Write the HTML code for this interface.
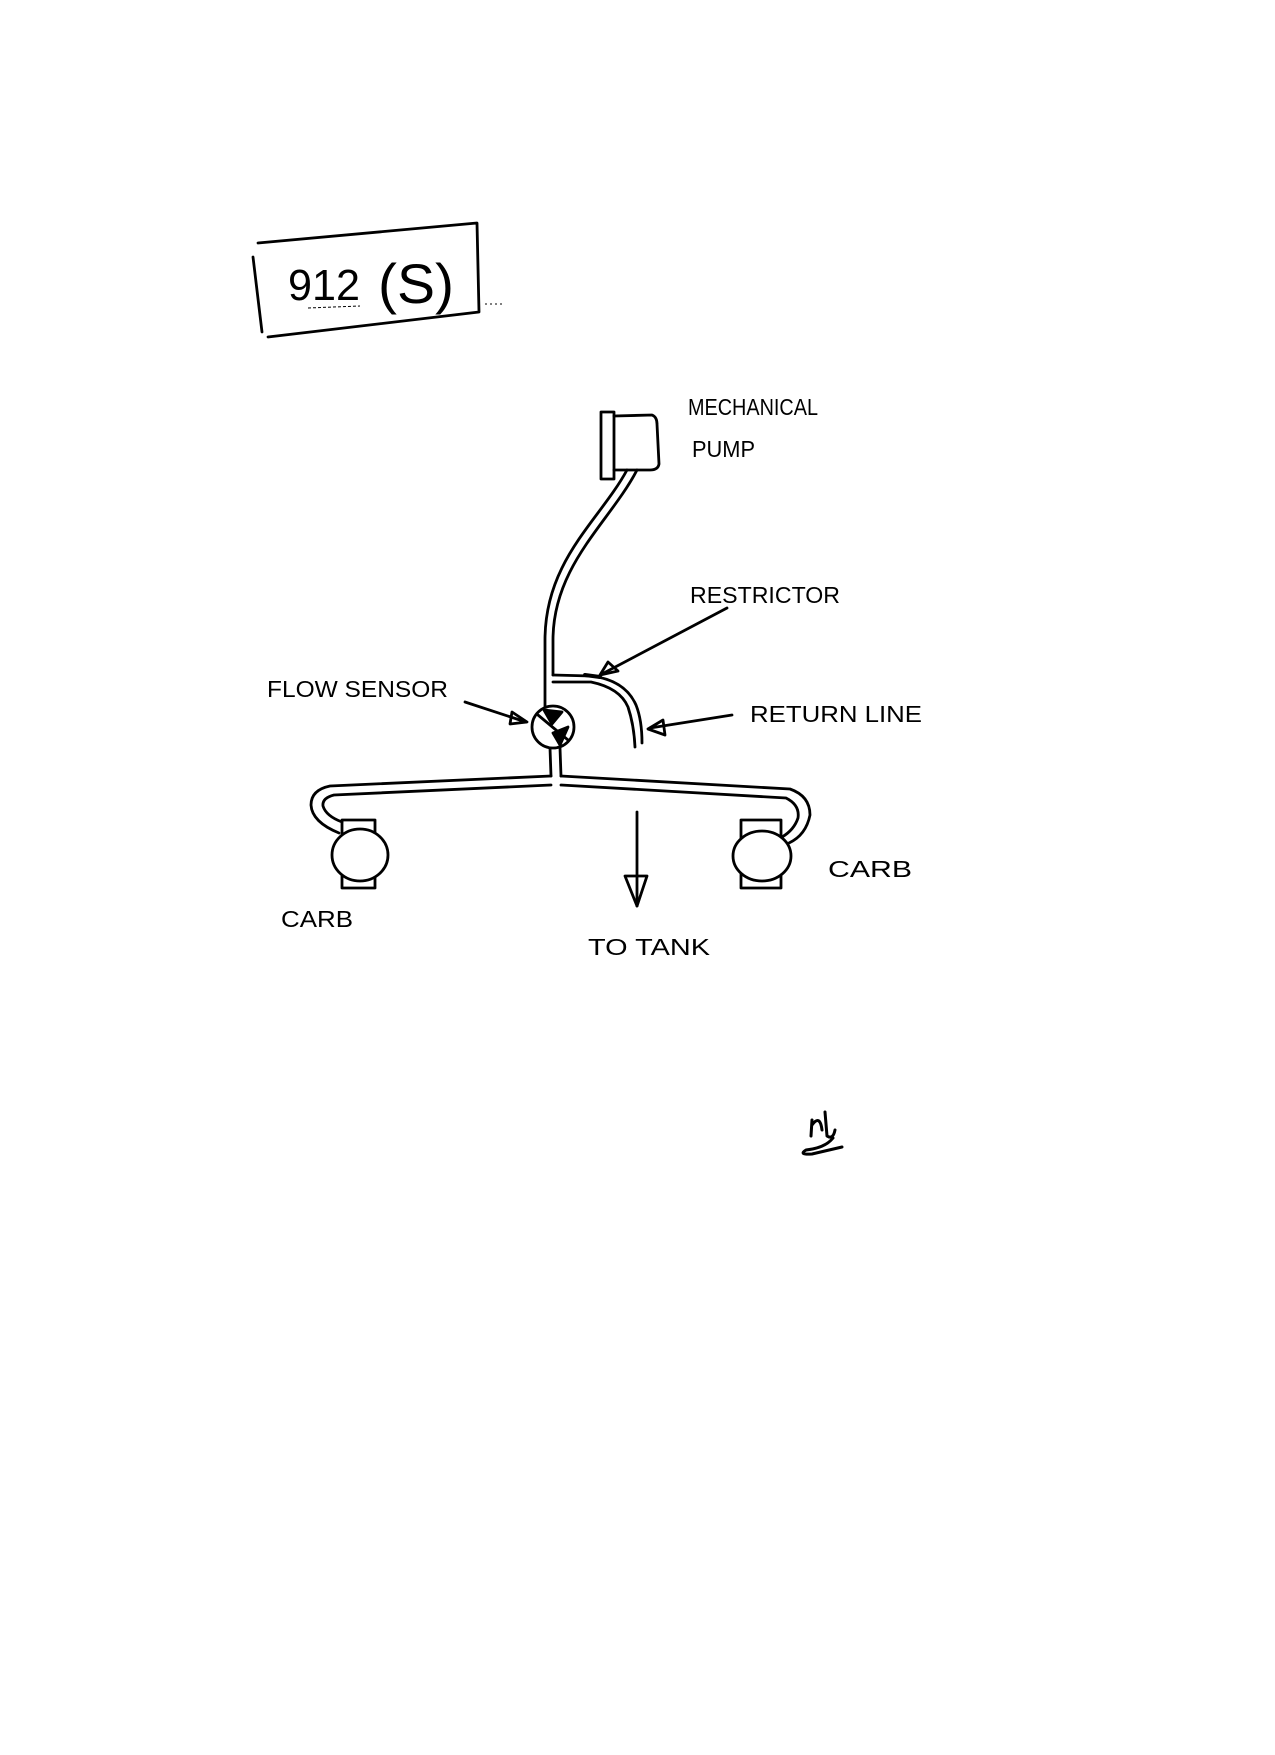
<!DOCTYPE html>
<html><head><meta charset="utf-8"><style>
html,body{margin:0;padding:0;background:#fff;}
svg{display:block}
text{font-family:"Liberation Sans",sans-serif;fill:#000}
</style></head><body>
<svg width="1275" height="1755" viewBox="0 0 1275 1755" xmlns="http://www.w3.org/2000/svg">
<g fill="none" stroke="#000" stroke-width="2.8" stroke-linecap="round" stroke-linejoin="round">
<!-- title box -->
<path d="M258 243 L477 223 L479 312 L268 337"/>
<path d="M253 257 L262 332"/>
<!-- pump -->
<rect x="601" y="412" width="13" height="67"/>
<path d="M614 416 L652 415 Q657 417 657 424 L659 464 Q658 470 650 470 L614 470"/>
<!-- pipe from pump -->
<path d="M627 470 C600 520 545 560 545 640 L545 707"/>
<path d="M637 470 C610 522 553 565 553 640 L553 675"/>
<!-- return line -->
<path d="M553 675 L591 676 Q625 680 636 705 Q642 720 642 743"/>
<path d="M553 682 L591 682 Q620 688 628 707 Q634 725 635 747"/>
<path d="M585 675 L600 677" stroke-width="4"/>
<!-- flow sensor -->
<circle cx="553" cy="727" r="21"/>
<path d="M538 715 L568 740"/>
<path d="M544 710 L562 712 L552 724 Z" fill="#000"/>
<path d="M553 733 L568 727 L560 745 Z" fill="#000"/>
<!-- pipe down -->
<path d="M550 748 L551 776"/>
<path d="M560 748 L561 776"/>
<!-- manifold -->
<path d="M551 776 L330 786 Q311 790 311 805 Q312 822 339 833"/>
<path d="M551 785 L334 795 Q322 798 323 806 Q326 816 342 822"/>
<path d="M561 776 L790 789 Q810 796 810 815 Q806 835 789 843"/>
<path d="M561 785 L786 798 Q800 805 798 818 Q794 830 782 837"/>
<!-- left carb -->
<rect x="342" y="820" width="33" height="68"/>
<ellipse cx="360" cy="855" rx="28" ry="26" fill="#fff"/>
<!-- right carb -->
<rect x="741" y="820" width="40" height="68"/>
<ellipse cx="762" cy="856" rx="29" ry="25" fill="#fff"/>
<!-- to tank arrow -->
<path d="M637 812 L637 906"/>
<path d="M625 876 L637 906 L647 876 Z"/>
<!-- restrictor arrow -->
<path d="M727 608 L602 674"/>
<path d="M608 662 L600 675 L618 671 Z"/>
<!-- flow sensor arrow -->
<path d="M465 702 L526 722"/>
<path d="M512 712 L527 722 L510 724 Z"/>
<!-- return line arrow -->
<path d="M732 715 L650 728"/>
<path d="M663 720 L648 729 L665 735 Z"/>
<!-- signature -->
<path d="M812 1120 L811 1136 M812 1125 Q820 1114 822 1130 M825 1112 L827 1136 Q833 1140 835 1130" stroke-width="3"/>
<path d="M833 1138 Q825 1148 806 1150 Q798 1155 812 1154 L842 1147" stroke-width="3"/>
</g>
<text x="288" y="300" font-size="44" textLength="72" lengthAdjust="spacingAndGlyphs">912</text>
<text x="378" y="303" font-size="56" textLength="76" lengthAdjust="spacingAndGlyphs">(S)</text>
<path d="M308 308 L360 306" stroke="#000" stroke-width="1" fill="none" stroke-dasharray="3 2"/>
<path d="M485 304 L505 304" stroke="#000" stroke-width="1" fill="none" stroke-dasharray="2 3"/>
<g font-size="23">
<text x="688" y="415" textLength="130" lengthAdjust="spacingAndGlyphs">MECHANICAL</text>
<text x="692" y="457" textLength="63" lengthAdjust="spacingAndGlyphs">PUMP</text>
<text x="690" y="603" textLength="150" lengthAdjust="spacingAndGlyphs">RESTRICTOR</text>
<text x="267" y="697" textLength="181" lengthAdjust="spacingAndGlyphs">FLOW SENSOR</text>
<text x="750" y="722" textLength="172" lengthAdjust="spacingAndGlyphs">RETURN LINE</text>
<text x="828" y="877" textLength="84" lengthAdjust="spacingAndGlyphs">CARB</text>
<text x="281" y="927" textLength="72" lengthAdjust="spacingAndGlyphs">CARB</text>
<text x="588" y="955" textLength="122" lengthAdjust="spacingAndGlyphs">TO TANK</text>
</g>
</svg>
</body></html>
